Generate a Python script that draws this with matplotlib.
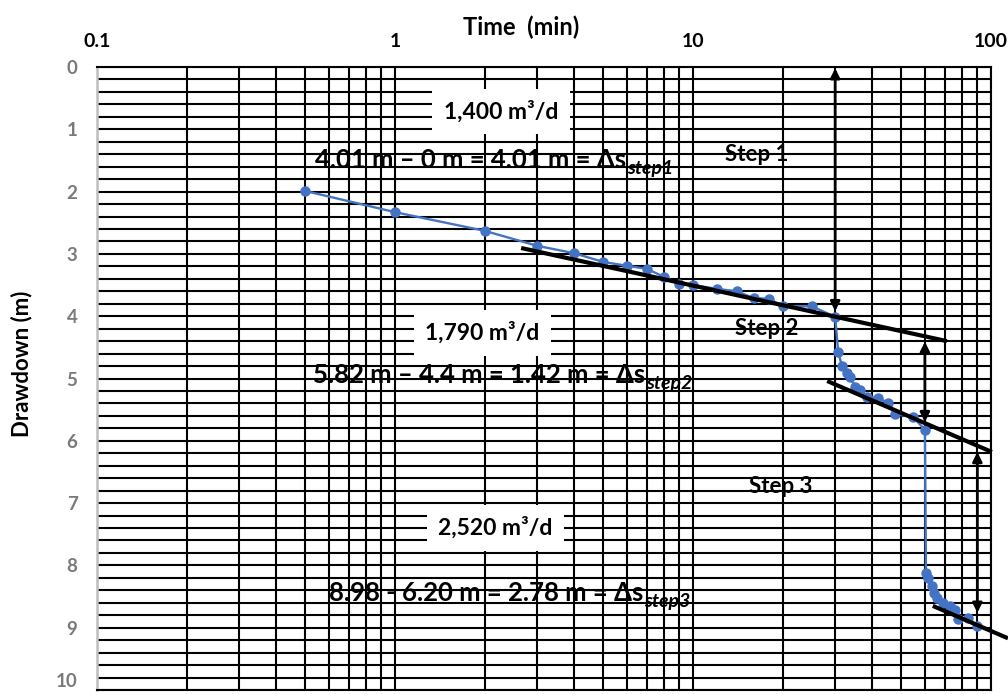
import numpy as np
import matplotlib
matplotlib.use("Agg")
import matplotlib.pyplot as plt
from matplotlib.ticker import MultipleLocator, LogLocator, NullFormatter, FixedLocator, FixedFormatter

plt.rcParams['font.family'] = ['Lato', 'DejaVu Sans']

# ---------------- data ----------------
time_min = [0.5, 1, 2, 3, 4, 5, 6, 7, 8, 9, 10, 12, 14, 16, 18, 20, 25, 30,
            30.7, 31.6, 32.9, 33.6, 35, 36.3, 38.4, 41.8, 45.1, 47.6, 54.7, 60,
            60.5, 61.5, 63.4, 64.5, 66, 69, 72.8, 75.7, 77.5, 83.7, 90]
drawdown_m = [1.99, 2.33, 2.63, 2.87, 2.99, 3.13, 3.19, 3.24, 3.37, 3.48, 3.50, 3.56, 3.60, 3.71, 3.72, 3.84, 3.84, 4.01,
              4.57, 4.80, 4.91, 4.98, 5.13, 5.18, 5.30, 5.31, 5.39, 5.57, 5.62, 5.82,
              8.12, 8.20, 8.33, 8.44, 8.52, 8.60, 8.65, 8.72, 8.86, 8.84, 8.98]

fit1_t = [2.65, 71.1]
fit1_d = [2.905, 4.40]
fit2_t = [28.2, 100.7]
fit2_d = [5.04, 6.18]
fit3_t = [63.8, 114]
fit3_d = [8.65, 9.17]

arrow_t = [30, 60, 90]
arrow_top = [0.02, 4.41, 6.18]
arrow_bot = [3.92, 5.70, 8.76]

x_ticks = [0.1, 1, 10, 100]
x_tick_labels = ['0.1', '1', '10', '100']
y_ticks = [0, 1, 2, 3, 4, 5, 6, 7, 8, 9, 10]

rate_labels = ['1,400 m³/d', '1,790 m³/d', '2,520 m³/d']
rate_t = [2.27, 1.96, 2.17]
rate_d = [0.71, 4.27, 7.40]

delta_texts = ['4.01 m – 0 m = 4.01 m = Δs', '5.82 m – 4.4 m = 1.42 m = Δs', '8.98 - 6.20 m = 2.78 m = Δs']
delta_subs = ['step1', 'step2', 'step3']
delta_t = [0.539, 0.531, 0.60]
delta_d = [1.49, 4.94, 8.44]

step_labels = ['Step 1', 'Step 2', 'Step 3']
step_t = [16.3, 17.7, 19.7]
step_d = [1.41, 4.19, 6.73]

# ---------------- figure ----------------
W, H = 1008, 695
fig = plt.figure(figsize=(W / 100, H / 100), dpi=100)
ax = fig.add_axes([97 / W, 1 - 690 / H, (991 - 97) / W, (690 - 67) / H])

ax.set_xscale('log')
ax.set_xlim(0.1, 100)
ax.set_ylim(10, 0)

ax.xaxis.set_major_locator(FixedLocator(x_ticks))
ax.xaxis.set_major_formatter(FixedFormatter(x_tick_labels))
ax.xaxis.set_minor_locator(LogLocator(base=10, subs=np.arange(2, 10)))
ax.xaxis.set_minor_formatter(NullFormatter())
ax.set_yticks(y_ticks)
ax.yaxis.set_minor_locator(MultipleLocator(0.2))

ax.grid(True, which='both', color='black', lw=1.5)
ax.set_axisbelow(True)
ax.tick_params(which='both', length=0)
ax.xaxis.tick_top()
ax.tick_params(axis='x', pad=12, labelsize=14, labelcolor='black')
ax.tick_params(axis='y', pad=14, labelsize=13.5, labelcolor='#7a7a7a')
for lab in ax.get_xticklabels() + ax.get_yticklabels():
    lab.set_fontweight('bold')
ax.get_yticklabels()[-1].set_verticalalignment('bottom')

for s in ['top', 'right', 'bottom']:
    ax.spines[s].set_color('black')
    ax.spines[s].set_linewidth(1.5)
ax.spines['left'].set_color('#bfbfbf')
ax.spines['left'].set_linewidth(1.8)

fig.text(521 / W, 1 - 27 / H, 'Time  (min)', ha='center', va='center',
         fontsize=17, fontweight='bold')
fig.text(22 / W, 1 - 364 / H, 'Drawdown (m)', ha='center', va='center',
         rotation=90, fontsize=16, fontweight='bold')

# data
ax.plot(time_min, drawdown_m, '-o', color='#4472C4', lw=1.7, ms=6.5, zorder=4)

# fitted straight lines
for ft, fd in [(fit1_t, fit1_d), (fit2_t, fit2_d), (fit3_t, fit3_d)]:
    ax.plot(ft, fd, color='black', lw=3, clip_on=False, solid_capstyle='butt', zorder=5)

# arrows
for t, d0, d1 in zip(arrow_t, arrow_top, arrow_bot):
    ax.annotate('', xy=(t, d0), xytext=(t, d1),
                arrowprops=dict(arrowstyle='<|-|>', color='black', lw=2,
                                mutation_scale=14, shrinkA=0, shrinkB=0), zorder=6)

# rate boxes
for lab, t, d in zip(rate_labels, rate_t, rate_d):
    ax.text(t, d, lab, ha='center', va='center', fontsize=16.5, fontweight='bold',
            bbox=dict(boxstyle='square,pad=0.5', fc='white', ec='none'), zorder=7)

# delta texts
for txt, sub, t, d in zip(delta_texts, delta_subs, delta_t, delta_d):
    main = ax.text(t, d, txt, ha='left', va='center', fontsize=18.5, fontweight='bold', zorder=7)
    ax.annotate(sub, xy=(1, 0), xycoords=main, xytext=(0.5, -1.5), textcoords='offset points',
                ha='left', va='baseline', fontsize=14, fontweight='bold', fontstyle='italic', zorder=7)

# step labels
for lab, t, d in zip(step_labels, step_t, step_d):
    ax.text(t, d, lab, ha='center', va='center', fontsize=16, fontweight='bold', zorder=7)

fig.savefig('out.png', dpi=100)
